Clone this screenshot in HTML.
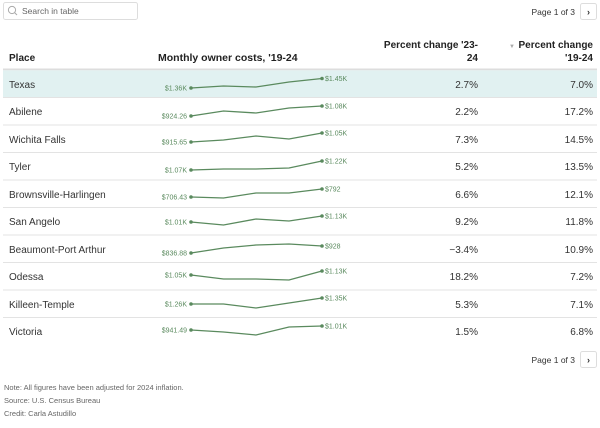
<!DOCTYPE html>
<html><head><meta charset="utf-8"><style>
body{margin:0;background:#fff;}
svg text{font-family:"Liberation Sans",sans-serif;}
</style></head><body>
<svg width="600" height="423" viewBox="0 0 600 423" xmlns="http://www.w3.org/2000/svg">
<rect x="3.5" y="2.5" width="134" height="17" rx="2" fill="#fff" stroke="#ddd"/>
<circle cx="12" cy="10" r="3.6" fill="none" stroke="#aaa" stroke-width="1"/>
<line x1="14.6" y1="12.6" x2="17" y2="15" stroke="#aaa" stroke-width="1"/>
<text x="22" y="14" font-size="8.5" fill="#666">Search in table</text>
<text x="575" y="15" font-size="8.5" fill="#333" text-anchor="end">Page 1 of 3</text>
<rect x="580.5" y="3.5" width="16" height="16" rx="2" fill="#fff" stroke="#ddd"/>
<text x="588.5" y="15" font-size="9" fill="#333" text-anchor="middle" font-weight="bold">›</text>
<g font-size="10" font-weight="bold" fill="#222">
<text x="9" y="61">Place</text>
<text x="158" y="61" font-size="10.5">Monthly owner costs, '19-24</text>
<text x="478" y="48" text-anchor="end">Percent change '23-</text>
<text x="478" y="61" text-anchor="end">24</text>
<text x="593" y="48" text-anchor="end">Percent change</text>
<text x="593" y="61" text-anchor="end">'19-24</text>
</g>
<text x="512" y="48" font-size="6" fill="#aaa" text-anchor="middle">▼</text>
<rect x="3" y="68.5" width="594" height="1.8" fill="#ddd"/>
<rect x="3" y="70.3" width="594" height="27" fill="#e1f1f1"/>
<g stroke="#e3e3e3" stroke-width="1">
<line x1="3" x2="597" y1="97.5" y2="97.5"/>
<line x1="3" x2="597" y1="125" y2="125"/>
<line x1="3" x2="597" y1="152.5" y2="152.5"/>
<line x1="3" x2="597" y1="180" y2="180"/>
<line x1="3" x2="597" y1="207.5" y2="207.5"/>
<line x1="3" x2="597" y1="235" y2="235"/>
<line x1="3" x2="597" y1="262.5" y2="262.5"/>
<line x1="3" x2="597" y1="290" y2="290"/>
<line x1="3" x2="597" y1="317.5" y2="317.5"/>
</g>
<g font-size="10" fill="#333">
<text x="9" y="88">Texas</text>
<text x="9" y="115">Abilene</text>
<text x="9" y="143">Wichita Falls</text>
<text x="9" y="170">Tyler</text>
<text x="9" y="198">Brownsville-Harlingen</text>
<text x="9" y="225">San Angelo</text>
<text x="9" y="253">Beaumont-Port Arthur</text>
<text x="9" y="280">Odessa</text>
<text x="9" y="308">Killeen-Temple</text>
<text x="9" y="335">Victoria</text>
</g>
<g font-size="10" fill="#333" text-anchor="end">
<text x="478" y="88">2.7%</text><text x="593" y="88">7.0%</text>
<text x="478" y="115">2.2%</text><text x="593" y="115">17.2%</text>
<text x="478" y="143">7.3%</text><text x="593" y="143">14.5%</text>
<text x="478" y="170">5.2%</text><text x="593" y="170">13.5%</text>
<text x="478" y="198">6.6%</text><text x="593" y="198">12.1%</text>
<text x="478" y="225">9.2%</text><text x="593" y="225">11.8%</text>
<text x="478" y="253">−3.4%</text><text x="593" y="253">10.9%</text>
<text x="478" y="280">18.2%</text><text x="593" y="280">7.2%</text>
<text x="478" y="308">5.3%</text><text x="593" y="308">7.1%</text>
<text x="478" y="335">1.5%</text><text x="593" y="335">6.8%</text>
</g>
<g fill="none" stroke="#5a8a5e" stroke-width="1.3">
<polyline points="191,88 223.5,86 256,87 289,82 322,78.5"/>
<polyline points="191,116 223.5,111 256,113 289,108 322,106"/>
<polyline points="191,142 223.5,140 256,136 289,139 322,133"/>
<polyline points="191,170 223.5,169 256,169 289,168 322,161"/>
<polyline points="191,197 223.5,198 256,193 289,193 322,189"/>
<polyline points="191,222 223.5,225 256,219 289,221 322,216"/>
<polyline points="191,253 223.5,248 256,245 289,244 322,246"/>
<polyline points="191,275 223.5,279 256,279 289,280 322,271"/>
<polyline points="191,304 223.5,304 256,308 289,303 322,298"/>
<polyline points="191,330 223.5,332 256,335 289,327 322,326"/>
</g>
<g fill="#5a8a5e">
<circle cx="191" cy="88" r="1.8"/><circle cx="322" cy="78.5" r="1.8"/>
<circle cx="191" cy="116" r="1.8"/><circle cx="322" cy="106" r="1.8"/>
<circle cx="191" cy="142" r="1.8"/><circle cx="322" cy="133" r="1.8"/>
<circle cx="191" cy="170" r="1.8"/><circle cx="322" cy="161" r="1.8"/>
<circle cx="191" cy="197" r="1.8"/><circle cx="322" cy="189" r="1.8"/>
<circle cx="191" cy="222" r="1.8"/><circle cx="322" cy="216" r="1.8"/>
<circle cx="191" cy="253" r="1.8"/><circle cx="322" cy="246" r="1.8"/>
<circle cx="191" cy="275" r="1.8"/><circle cx="322" cy="271" r="1.8"/>
<circle cx="191" cy="304" r="1.8"/><circle cx="322" cy="298" r="1.8"/>
<circle cx="191" cy="330" r="1.8"/><circle cx="322" cy="326" r="1.8"/>
</g>
<g font-size="7" fill="#5a8a5e">
<g text-anchor="end">
<text x="187" y="90.5">$1.36K</text>
<text x="187" y="118.5">$924.26</text>
<text x="187" y="144.5">$915.65</text>
<text x="187" y="172.5">$1.07K</text>
<text x="187" y="199.5">$706.43</text>
<text x="187" y="224.5">$1.01K</text>
<text x="187" y="255.5">$836.88</text>
<text x="187" y="277.5">$1.05K</text>
<text x="187" y="306.5">$1.26K</text>
<text x="187" y="332.5">$941.49</text>
</g>
<text x="325" y="81">$1.45K</text>
<text x="325" y="108.5">$1.08K</text>
<text x="325" y="135.5">$1.05K</text>
<text x="325" y="163.5">$1.22K</text>
<text x="325" y="191.5">$792</text>
<text x="325" y="218.5">$1.13K</text>
<text x="325" y="248.5">$928</text>
<text x="325" y="273.5">$1.13K</text>
<text x="325" y="300.5">$1.35K</text>
<text x="325" y="328.5">$1.01K</text>
</g>
<text x="575" y="363" font-size="8.5" fill="#333" text-anchor="end">Page 1 of 3</text>
<rect x="580.5" y="351.5" width="16" height="16" rx="2" fill="#fff" stroke="#ddd"/>
<text x="588.5" y="363" font-size="9" fill="#333" text-anchor="middle" font-weight="bold">›</text>
<g font-size="7.5" fill="#666">
<text x="4" y="390">Note: All figures have been adjusted for 2024 inflation.</text>
<text x="4" y="403">Source: U.S. Census Bureau</text>
<text x="4" y="416">Credit: Carla Astudillo</text>
</g>
</svg>
</body></html>
